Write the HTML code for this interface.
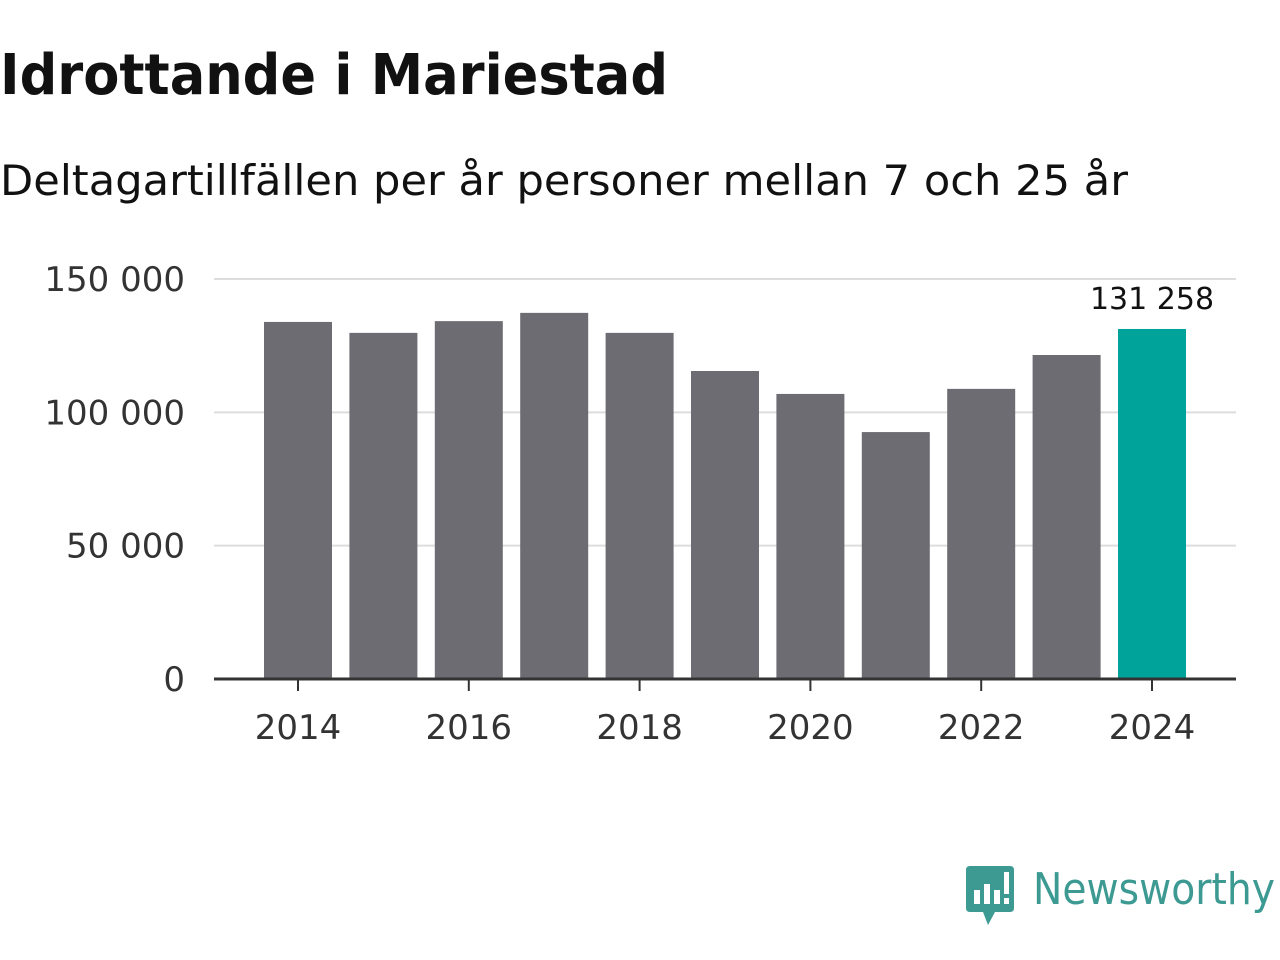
<!DOCTYPE html>
<html><head><meta charset="utf-8"><style>
body{margin:0;width:1280px;height:960px;background:#fff;font-family:"DejaVu Sans","Liberation Sans",sans-serif;overflow:hidden;position:relative}
svg{position:absolute;left:0;top:0}
</style></head><body>
<svg width="1280" height="220">
<text x="0" y="94" font-size="56" font-weight="bold" fill="#111" textLength="668" lengthAdjust="spacingAndGlyphs" font-family="DejaVu Sans, sans-serif">Idrottande i Mariestad</text>
<text x="0" y="195" font-size="42" fill="#111" textLength="1128" lengthAdjust="spacingAndGlyphs" font-family="DejaVu Sans, sans-serif">Deltagartillfällen per år personer mellan 7 och 25 år</text>
</svg>
<svg id="chart" width="1280" height="960"></svg>
<script>
const years=[2014,2015,2016,2017,2018,2019,2020,2021,2022,2023,2024];
const values=[133900,129800,134200,137300,129800,115500,106900,92600,108800,121500,131258];
const yTicks=[0,50000,100000,150000];
const yTickLabels=["0","50 000","100 000","150 000"];
const xTickYears=[2014,2016,2018,2020,2022,2024];
const NS="http://www.w3.org/2000/svg";
const svg=document.getElementById('chart');
const y0=679,pxPer=400/150000;
const yS=v=>y0-v*pxPer;
const xS=yr=>298+(yr-2014)*85.4;
function mk(t,a){const e=document.createElementNS(NS,t);for(const k in a)e.setAttribute(k,a[k]);svg.appendChild(e);return e;}
yTicks.forEach((t,i)=>{
  if(t>0){const g=mk('line',{x1:214,x2:1236,y1:yS(t),y2:yS(t),stroke:'#ddd','stroke-width':2});
  
  }
  const l=mk('text',{x:185,y:yS(t)+12,'text-anchor':'end','font-size':34,fill:'#333'});
  l.textContent=yTickLabels[i];
  
  
});
years.forEach((yr,i)=>{
  const last=i===years.length-1;
  const r=mk('rect',{x:xS(yr)-34,y:yS(values[i]),width:68,height:y0-yS(values[i]),fill:last?'#00a39a':'#6d6c73'});
  
  
  if(last){const t=mk('text',{x:xS(yr),y:yS(values[i])-20,'text-anchor':'middle','font-size':30,fill:'#111'});
  t.textContent=values[i].toLocaleString('en').replace(/,/g,' ');
  
  }
});
const ax=mk('line',{x1:214,x2:1236,y1:y0,y2:y0,stroke:'#333','stroke-width':3});


xTickYears.forEach(yr=>{
  const tk=mk('line',{x1:xS(yr),x2:xS(yr),y1:y0,y2:y0+12,stroke:'#333','stroke-width':2});
  
  
  const l=mk('text',{x:xS(yr),y:739,'text-anchor':'middle','font-size':34,fill:'#333'});
  l.textContent=yr;
  
  
});
</script>
<svg width="1280" height="960">
<path d="M970 866 H1010 Q1014 866 1014 870 V908 Q1014 912 1010 912 H995 L988 925 L983 912 H970 Q966 912 966 908 V870 Q966 866 970 866Z" fill="#3d9a93"/>
<rect x="974" y="890" width="6" height="14" fill="#fff"/><rect x="984" y="884" width="6" height="20" fill="#fff"/><rect x="994" y="890" width="6" height="14" fill="#fff"/><rect x="1004" y="872" width="5" height="22" fill="#fff"/><rect x="1004" y="898" width="5" height="6" fill="#fff"/>
<text x="1033" y="904" font-size="44" fill="#3d9a93" textLength="242" lengthAdjust="spacingAndGlyphs" font-family="DejaVu Sans, sans-serif">Newsworthy</text>
</svg>
</body></html>
